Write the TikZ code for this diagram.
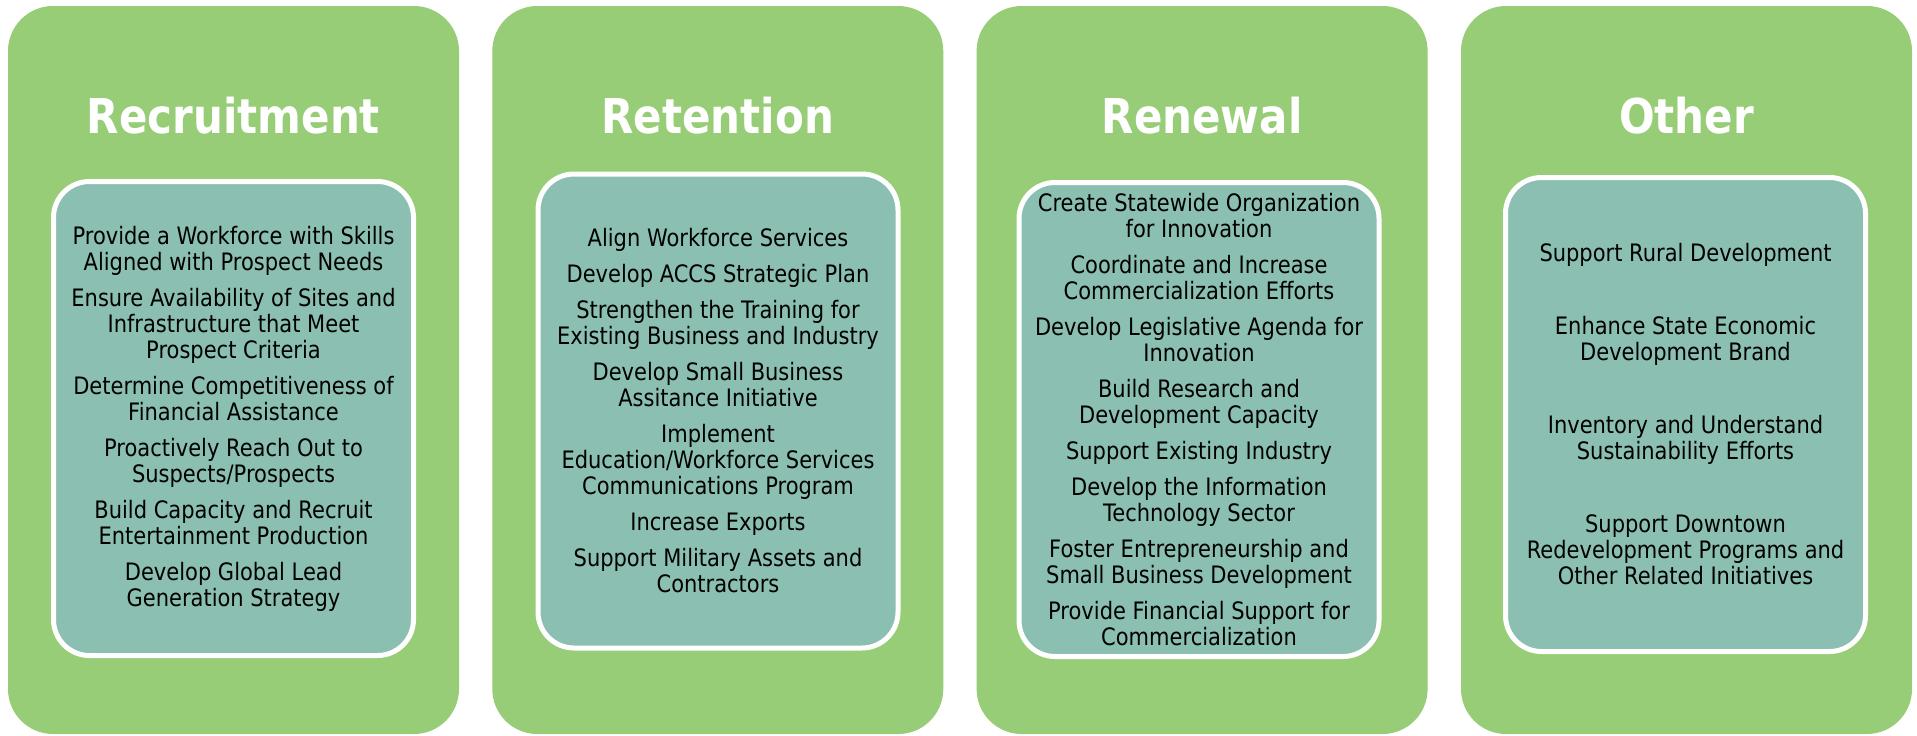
\documentclass[tikz,border=0pt]{standalone}
\usepackage{fontspec}
\setmainfont{DejaVu Sans}[FakeStretch=0.875]
\usetikzlibrary{positioning}

\definecolor{panelgreen}{RGB}{152,205,119}
\definecolor{listteal}{RGB}{139,191,178}

\tikzset{
  panel/.style={fill=panelgreen, rounded corners=22.5pt, inner sep=0pt,
    minimum width=225.5pt, minimum height=364pt},
  heading/.style={anchor=base, text=white, font=\fontsize{24}{28}\selectfont\bfseries},
  itemlist/.style={fill=listteal, draw=white, line width=2.5pt, rounded corners=18pt,
    inner sep=0pt, minimum width=180pt, minimum height=237pt, align=center,
    font=\fontsize{12}{13}\selectfont},
}

\begin{document}
\begin{tikzpicture}[x=0.5pt, y=-0.5pt]
  \useasboundingbox (0,0) rectangle (1917,735);

  \node[panel] (recpanel) at (233.5,370) {};
  \node[panel] (retpanel) at (717.8,370) {};
  \node[panel] (renpanel) at (1202.1,370) {};
  \node[panel] (othpanel) at (1686.5,370) {};

  \node[heading] (rechead) at (233.5,133) {Recruitment};
  \node[heading] (rethead) at (717.8,133) {Retention};
  \node[heading] (renhead) at (1202.1,133) {Renewal};
  \node[heading] (othhead) at (1686.5,133) {Other};

  \node[itemlist] (reclist) at (233.5,418.5) {Provide a Workforce with Skills\\Aligned with Prospect Needs\\[5pt]
    Ensure Availability of Sites and\\Infrastructure that Meet\\Prospect Criteria\\[5pt]
    Determine Competitiveness of\\Financial Assistance\\[5pt]
    Proactively Reach Out to\\Suspects/Prospects\\[5pt]
    Build Capacity and Recruit\\Entertainment Production\\[5pt]
    Develop Global Lead\\Generation Strategy};
  \node[itemlist] (retlist) at (718,411) {Align Workforce Services\\[5pt]
    Develop ACCS Strategic Plan\\[5pt]
    Strengthen the Training for\\Existing Business and Industry\\[5pt]
    Develop Small Business\\Assitance Initiative\\[5pt]
    Implement\\Education/Workforce Services\\Communications Program\\[5pt]
    Increase Exports\\[5pt]
    Support Military Assets and\\Contractors};
  \node[itemlist] (renlist) at (1199,419.5) {Create Statewide Organization\\for Innovation\\[5pt]
    Coordinate and Increase\\Commercialization Efforts\\[5pt]
    Develop Legislative Agenda for\\Innovation\\[5pt]
    Build Research and\\Development Capacity\\[5pt]
    Support Existing Industry\\[5pt]
    Develop the Information\\Technology Sector\\[5pt]
    Foster Entrepreneurship and\\Small Business Development\\[5pt]
    Provide Financial Support for\\Commercialization};
  \node[itemlist] (othlist) at (1685.5,414.5) {Support Rural Development\\[23.5pt]
    Enhance State Economic\\Development Brand\\[23.5pt]
    Inventory and Understand\\Sustainability Efforts\\[23.5pt]
    Support Downtown\\Redevelopment Programs and\\Other Related Initiatives};
\end{tikzpicture}
\end{document}
